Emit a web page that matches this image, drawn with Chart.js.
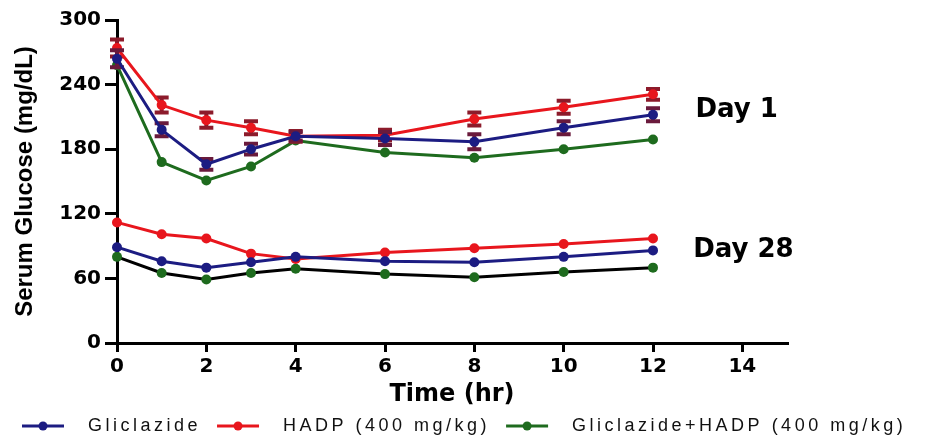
<!DOCTYPE html>
<html>
<head>
<meta charset="utf-8">
<script src="https://cdn.jsdelivr.net/npm/chart.js@4.4.1/dist/chart.umd.min.js"></script>
<style>
  html, body { margin: 0; padding: 0; background: #fff; }
</style>
</head>
<body>
<canvas id="myChart" width="942" height="435"></canvas>
<script>
var hours = [0, 1, 2, 3, 4, 6, 8, 10, 12];
var seriesNames = ["Gliclazide", "HADP (400 mg/kg)", "Gliclazide+HADP (400 mg/kg)"];

// Day 1
var day1Gliclazide = [264, 198, 166, 180, 192, 190, 187, 200, 212];
var day1GliclazideErr = [8, 6, 5, 5, 4, 6, 7, 6, 6];
var day1Hadp = [274, 221, 207, 200, 192, 193, 208, 219, 231];
var day1HadpErr = [8, 7, 7, 6, 5, 5, 6, 6, 5];
var day1Combo = [258, 168, 151, 164, 188, 177, 172, 180, 189];

// Day 28
var day28Gliclazide = [89, 76, 70, 75, 80, 76, 75, 80, 86];
var day28Hadp = [112, 101, 97, 83, 78, 84, 88, 92, 97];
var day28Combo = [80, 65, 59, 65, 69, 64, 61, 66, 70];

var xTicks = [0, 2, 4, 6, 8, 10, 12, 14];
var yTicks = [0, 60, 120, 180, 240, 300];

var navy = "#1c1c82";
var red = "#e8161d";
var green = "#1e6b1e";
var errNavy = "#6a1a3c";
var errRed = "#8c1b2b";

Chart.defaults.font.family = "DejaVu Sans";
Chart.defaults.color = "#000";

function toPoints(vals) {
  return vals.map(function (v, i) {
    return { x: hours[i], y: v };
  });
}

function makeSet(label, vals, color, lineColor, errs, errColor) {
  return {
    label: label,
    data: toPoints(vals),
    borderColor: lineColor,
    backgroundColor: color,
    pointBackgroundColor: color,
    pointBorderColor: color,
    pointBorderWidth: 0,
    pointRadius: 5,
    borderWidth: 3,
    tension: 0,
    clip: false,
    errors: errs,
    errColor: errColor
  };
}

var errorBars = {
  id: "errorBars",
  beforeDatasetDraw: function (chart, args) {
    var ds = chart.data.datasets[args.index];
    if (!ds.errors) return;
    var meta = chart.getDatasetMeta(args.index);
    var ys = chart.scales.y;
    var ctx = chart.ctx;
    ctx.save();
    ctx.strokeStyle = ds.errColor;
    ctx.lineWidth = 4;
    meta.data.forEach(function (pt, j) {
      var v = ds.data[j].y;
      var e = ds.errors[j];
      var top = ys.getPixelForValue(v + e);
      var bot = ys.getPixelForValue(v - e);
      ctx.beginPath();
      ctx.moveTo(pt.x, top);
      ctx.lineTo(pt.x, bot);
      ctx.moveTo(pt.x - 7, top);
      ctx.lineTo(pt.x + 7, top);
      ctx.moveTo(pt.x - 7, bot);
      ctx.lineTo(pt.x + 7, bot);
      ctx.stroke();
    });
    ctx.restore();
  }
};

var dayLabels = {
  id: "dayLabels",
  afterDraw: function (chart) {
    var ctx = chart.ctx;
    var xs = chart.scales.x;
    var ys = chart.scales.y;
    ctx.save();
    ctx.fillStyle = "#000";
    ctx.font = "bold 26px 'DejaVu Sans'";
    ctx.textBaseline = "alphabetic";
    ctx.fillText("Day 1", xs.getPixelForValue(12.95), ys.getPixelForValue(210));
    ctx.fillText("Day 28", xs.getPixelForValue(12.9), ys.getPixelForValue(80));
    ctx.restore();
  }
};

var bottomLegend = {
  id: "bottomLegend",
  afterDraw: function (chart) {
    var ctx = chart.ctx;
    var colors = [navy, red, green];
    var x = 22;
    var y = 426;
    ctx.save();
    ctx.font = "18px 'Liberation Sans'";
    ctx.letterSpacing = "3.5px";
    ctx.textBaseline = "middle";
    for (var i = 0; i < seriesNames.length; i++) {
      ctx.strokeStyle = colors[i];
      ctx.fillStyle = colors[i];
      ctx.lineWidth = 3;
      ctx.beginPath();
      ctx.moveTo(x, y);
      ctx.lineTo(x + 42, y);
      ctx.stroke();
      ctx.beginPath();
      ctx.arc(x + 21, y, 4.5, 0, Math.PI * 2);
      ctx.fill();
      x += 42 + 24;
      ctx.fillStyle = "#111";
      ctx.fillText(seriesNames[i], x, y);
      x += ctx.measureText(seriesNames[i]).width + 16;
    }
    ctx.restore();
  }
};

const ctx = document.getElementById("myChart");
const myChart = new Chart(ctx, {
  type: "line",
  data: {
    datasets: [
      makeSet(seriesNames[0], day1Gliclazide, navy, navy, day1GliclazideErr, errNavy),
      makeSet(seriesNames[1], day1Hadp, red, red, day1HadpErr, errRed),
      makeSet(seriesNames[2], day1Combo, green, green, null, null),
      makeSet(seriesNames[0], day28Gliclazide, navy, navy, null, null),
      makeSet(seriesNames[1], day28Hadp, red, red, null, null),
      makeSet(seriesNames[2], day28Combo, green, "#000", null, null)
    ]
  },
  options: {
    responsive: false,
    animation: false,
    layout: { padding: { top: 20, right: 155, bottom: 0, left: 0 } },
    plugins: {
      legend: { display: false },
      tooltip: { enabled: false }
    },
    scales: {
      x: {
        type: "linear",
        min: 0,
        max: 15,
        afterBuildTicks: function (s) {
          s.ticks = xTicks.map(function (v) { return { value: v }; });
        },
        afterFit: function (s) { s.height = 92; },
        border: { color: "#000", width: 3 },
        grid: { drawOnChartArea: false, color: "#000", lineWidth: 3, tickLength: 9 },
        ticks: { font: { size: 20, weight: "bold" }, color: "#000", padding: 3, maxRotation: 0 },
        title: {
          display: true,
          text: "Time (hr)",
          color: "#000",
          font: { size: 24, weight: "bold", family: "DejaVu Sans" },
          padding: { top: 0, bottom: 26 }
        }
      },
      y: {
        min: 0,
        max: 300,
        afterBuildTicks: function (s) {
          s.ticks = yTicks.map(function (v) { return { value: v }; });
        },
        afterFit: function (s) { s.width = 117; },
        border: { color: "#000", width: 3 },
        grid: { drawOnChartArea: false, color: "#000", lineWidth: 3, tickLength: 12 },
        ticks: { font: { size: 20, weight: "bold" }, color: "#000", padding: 4 },
        title: {
          display: true,
          text: "Serum Glucose (mg/dL)",
          color: "#000",
          font: { size: 24, weight: "bold", family: "Liberation Sans" },
          padding: { top: 11, bottom: 0 }
        }
      }
    }
  },
  plugins: [errorBars, dayLabels, bottomLegend]
});
</script>
</body>
</html>
